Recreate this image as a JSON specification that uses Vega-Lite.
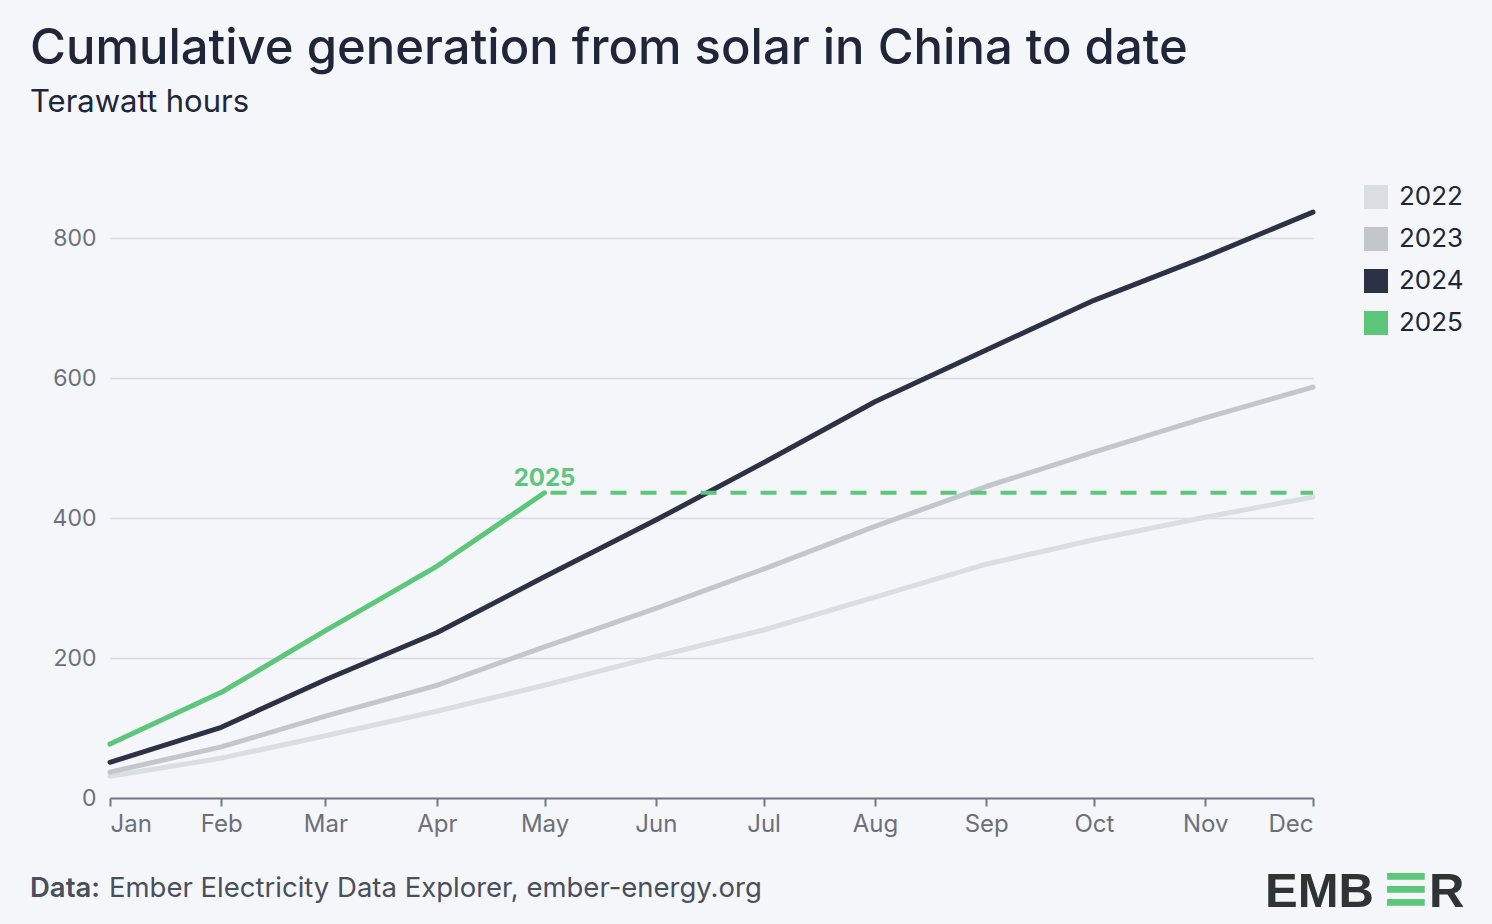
{
  "$schema": "https://vega.github.io/schema/vega-lite/v6.json",
  "width": 1203,
  "height": 630,
  "autosize": {"type": "none"},
  "padding": {"left": 110, "top": 168, "right": 179, "bottom": 126},
  "background": "#f4f6f9",
  "config": {
    "view": {"stroke": null},
    "font": "Inter"
  },
  "title": {
    "text": "Cumulative generation from solar in China to date",
    "subtitle": "Terawatt hours",
    "anchor": "start",
    "frame": "group",
    "orient": "top",
    "dx": -80,
    "offset": 50,
    "font": "Inter",
    "fontSize": 49,
    "fontWeight": 500,
    "color": "#20263a",
    "subtitleFont": "Inter",
    "subtitleFontSize": 31,
    "subtitleFontWeight": 400,
    "subtitleColor": "#20263a",
    "subtitlePadding": 14
  },
  "data": {
    "values": [
      {"year": "2022", "date": "2022-01-01", "value": 31},
      {"year": "2022", "date": "2022-02-01", "value": 57},
      {"year": "2022", "date": "2022-03-01", "value": 89},
      {"year": "2022", "date": "2022-04-01", "value": 124},
      {"year": "2022", "date": "2022-05-01", "value": 161},
      {"year": "2022", "date": "2022-06-01", "value": 202},
      {"year": "2022", "date": "2022-07-01", "value": 240},
      {"year": "2022", "date": "2022-08-01", "value": 287},
      {"year": "2022", "date": "2022-09-01", "value": 334},
      {"year": "2022", "date": "2022-10-01", "value": 369},
      {"year": "2022", "date": "2022-11-01", "value": 401},
      {"year": "2022", "date": "2022-12-01", "value": 430},
      {"year": "2023", "date": "2023-01-01", "value": 37},
      {"year": "2023", "date": "2023-02-01", "value": 73},
      {"year": "2023", "date": "2023-03-01", "value": 117},
      {"year": "2023", "date": "2023-04-01", "value": 161},
      {"year": "2023", "date": "2023-05-01", "value": 216},
      {"year": "2023", "date": "2023-06-01", "value": 271},
      {"year": "2023", "date": "2023-07-01", "value": 327},
      {"year": "2023", "date": "2023-08-01", "value": 388},
      {"year": "2023", "date": "2023-09-01", "value": 445},
      {"year": "2023", "date": "2023-10-01", "value": 494},
      {"year": "2023", "date": "2023-11-01", "value": 543},
      {"year": "2023", "date": "2023-12-01", "value": 587},
      {"year": "2024", "date": "2024-01-01", "value": 51},
      {"year": "2024", "date": "2024-02-01", "value": 101},
      {"year": "2024", "date": "2024-03-01", "value": 169},
      {"year": "2024", "date": "2024-04-01", "value": 236},
      {"year": "2024", "date": "2024-05-01", "value": 316},
      {"year": "2024", "date": "2024-06-01", "value": 397},
      {"year": "2024", "date": "2024-07-01", "value": 479},
      {"year": "2024", "date": "2024-08-01", "value": 566},
      {"year": "2024", "date": "2024-09-01", "value": 640},
      {"year": "2024", "date": "2024-10-01", "value": 711},
      {"year": "2024", "date": "2024-11-01", "value": 773},
      {"year": "2024", "date": "2024-12-01", "value": 837},
      {"year": "2025", "date": "2025-01-01", "value": 77},
      {"year": "2025", "date": "2025-02-01", "value": 151},
      {"year": "2025", "date": "2025-03-01", "value": 239},
      {"year": "2025", "date": "2025-04-01", "value": 331},
      {"year": "2025", "date": "2025-05-01", "value": 436}
    ]
  },
  "layer": [
    {
      "mark": {"type": "line", "strokeWidth": 5, "strokeCap": "round", "strokeJoin": "round"},
      "encoding": {
        "x": {
          "field": "date",
          "timeUnit": "utcmonth",
          "type": "temporal",
          "scale": {"domain": [{"year": 2012, "month": 1, "date": 1, "utc": true}, {"year": 2012, "month": 12, "date": 1, "utc": true}]},
          "axis": {
            "title": null,
            "format": "%b",
            "formatType": "utc",
            "tickCount": {"interval": "month", "step": 1},
            "labelFlush": true,
            "labelOverlap": false,
            "grid": false,
            "domainColor": "#737882",
            "domainWidth": 2,
            "tickColor": "#737882",
            "tickWidth": 2,
            "tickSize": 8,
            "labelPadding": 6,
            "labelFont": "Inter",
            "labelFontSize": 24,
            "labelColor": "#6b7079"
          }
        },
        "y": {
          "field": "value",
          "type": "quantitative",
          "scale": {"domain": [0, 900], "nice": false},
          "axis": {
            "title": null,
            "values": [0, 200, 400, 600, 800],
            "domain": false,
            "ticks": false,
            "grid": true,
            "gridColor": "#d9dce1",
            "gridWidth": 1.5,
            "labelPadding": 14,
            "labelFont": "Inter",
            "labelFontSize": 23,
            "labelColor": "#6b7079"
          }
        },
        "color": {
          "field": "year",
          "type": "nominal",
          "scale": {"domain": ["2022", "2023", "2024", "2025"], "range": ["#dadde1", "#c3c7cc", "#2b3245", "#5cc77b"]},
          "legend": {
            "title": null,
            "orient": "none",
            "legendX": 1253,
            "legendY": 16,
            "symbolType": "square",
            "symbolSize": 576,
            "symbolStrokeWidth": 0,
            "rowPadding": 16,
            "labelOffset": 10,
            "labelFont": "Inter",
            "labelFontSize": 26,
            "labelColor": "#20263a",
            "encode": {
              "symbols": {"update": {"fill": {"scale": "color", "field": "value"}, "strokeWidth": {"value": 0}}}
            }
          }
        }
      }
    },
    {
      "transform": [{"filter": "datum.year == '2025' && datum.value > 430"}],
      "mark": {"type": "rule", "strokeWidth": 4, "strokeDash": [16, 14], "color": "#5cc77b", "strokeDashOffset": -6},
      "encoding": {
        "x": {"field": "date", "timeUnit": "utcmonth", "type": "temporal"},
        "x2": {"datum": {"year": 2012, "month": 12, "date": 1, "utc": true}},
        "y": {"field": "value", "type": "quantitative"}
      }
    },
    {
      "transform": [{"filter": "datum.year == '2025' && datum.value > 430"}],
      "mark": {"type": "text", "font": "Inter", "fontSize": 24, "fontWeight": 700, "color": "#5cc77b", "align": "center", "baseline": "alphabetic", "dy": -7},
      "encoding": {
        "x": {"field": "date", "timeUnit": "utcmonth", "type": "temporal"},
        "y": {"field": "value", "type": "quantitative"},
        "text": {"field": "year"}
      }
    },
    {
      "data": {"values": [{"t": "Data:"}]},
      "mark": {"type": "text", "font": "Inter", "fontSize": 27.5, "fontWeight": 600, "color": "#4a4f5c", "align": "left", "baseline": "alphabetic", "dx": -80},
      "encoding": {
        "x": {"datum": {"year": 2012, "month": 1, "date": 1, "utc": true}},
        "y": {"datum": -141},
        "text": {"field": "t"}
      }
    },
    {
      "data": {"values": [{"t": "Ember Electricity Data Explorer, ember-energy.org"}]},
      "mark": {"type": "text", "font": "Inter", "fontSize": 27.5, "fontWeight": 400, "color": "#4a4f5c", "align": "left", "baseline": "alphabetic", "dx": -1},
      "encoding": {
        "x": {"datum": {"year": 2012, "month": 1, "date": 1, "utc": true}},
        "y": {"datum": -141},
        "text": {"field": "t"}
      }
    },
    {
      "data": {"values": [{"t": "EMB"}]},
      "mark": {"type": "text", "font": "Liberation Sans", "fontSize": 49, "fontWeight": 700, "color": "#2f3333", "align": "left", "baseline": "alphabetic", "dx": -48},
      "encoding": {
        "x": {"datum": {"year": 2012, "month": 12, "date": 1, "utc": true}},
        "y": {"datum": -156},
        "text": {"field": "t"}
      }
    },
    {
      "data": {"values": [{"t": "≡"}]},
      "mark": {"type": "text", "font": "DejaVu Sans", "fontSize": 60, "fontWeight": 700, "color": "#5cc77b", "align": "center", "baseline": "alphabetic", "dx": 93, "dy": 1},
      "encoding": {
        "x": {"datum": {"year": 2012, "month": 12, "date": 1, "utc": true}},
        "y": {"datum": -156},
        "text": {"field": "t"}
      }
    },
    {
      "data": {"values": [{"t": "R"}]},
      "mark": {"type": "text", "font": "Liberation Sans", "fontSize": 49, "fontWeight": 700, "color": "#2f3333", "align": "left", "baseline": "alphabetic", "dx": 116},
      "encoding": {
        "x": {"datum": {"year": 2012, "month": 12, "date": 1, "utc": true}},
        "y": {"datum": -156},
        "text": {"field": "t"}
      }
    }
  ]
}
